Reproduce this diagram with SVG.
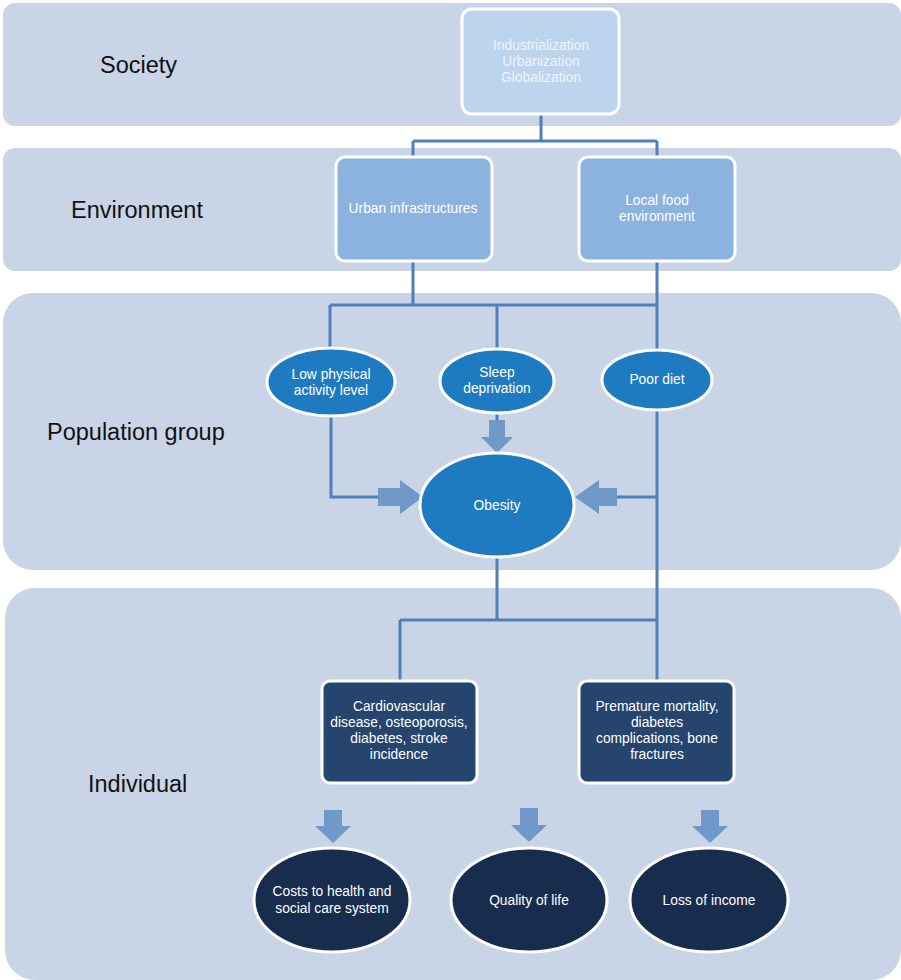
<svg xmlns="http://www.w3.org/2000/svg" width="901" height="980" viewBox="0 0 901 980">
<style>
.band{fill:#c9d4e7}
.lbl{font-family:"Liberation Sans",Arial,sans-serif;font-size:23.5px;fill:#111}
.t{font-family:"Liberation Sans",Arial,sans-serif;font-size:13.8px;fill:#fff;text-anchor:middle}
.soc{fill:#bdd4ee;stroke:#fff;stroke-width:3}
.env{fill:#8cb2df;stroke:#fff;stroke-width:3}
.pop{fill:#1f7bc1;stroke:#fff;stroke-width:3}
.ind{fill:#25456f;stroke:#fff;stroke-width:3}
.out{fill:#182c4e;stroke:#fff;stroke-width:3}
.ln{fill:none;stroke:#4f80bd;stroke-width:3}
.ar{fill:#7098c8}
</style>
<rect x="0" y="0" width="901" height="980" fill="#fff"/>
<g id="bands">
<rect class="band" x="3" y="3" width="898" height="123" rx="12"/>
<rect class="band" x="3" y="148" width="898" height="123" rx="12"/>
<rect class="band" x="3" y="293" width="898" height="277" rx="30"/>
<rect class="band" x="5" y="588" width="896" height="392" rx="30"/>
<text class="lbl" x="100" y="73">Society</text>
<text class="lbl" x="71" y="218">Environment</text>
<text class="lbl" x="47" y="440">Population group</text>
<text class="lbl" x="88" y="792">Individual</text>
</g>
<g id="connectors">
<path class="ln" d="M541 114V141M413 141H657M413 141V157M657 141V157"/>
<path class="ln" d="M413 261V305M330 305H657M657 261V350M330 305V348M497 305V349"/>
<path class="ln" d="M331 417V497H380"/>
<path class="ln" d="M497 414V421"/>
<path class="ln" d="M657 410V680M657 497H617"/>
<path class="ln" d="M497 558V620M400 620H657M400 620V680"/>
<path class="ar" d="M489 420H505V437H513L497 453L481 437H489Z"/>
<path class="ar" d="M378 488H400V480L423 497L400 514V506H378Z"/>
<path class="ar" d="M617 488H599V480L575 497L599 514V506H617Z"/>
<path class="ar" d="M324 810H342V826H351L333 843L315 826H324Z"/>
<path class="ar" d="M520 808H538V825H547L529 842L511 825H520Z"/>
<path class="ar" d="M701 810H719V826H728L710 843L692 826H701Z"/>
</g>
<g id="n-society">
<rect class="soc" x="462" y="9" width="157" height="105" rx="10"/>
<text class="t" x="541" y="50" style="fill:#eef3fa">Industrialization</text>
<text class="t" x="541" y="66" style="fill:#eef3fa">Urbanization</text>
<text class="t" x="541" y="82" style="fill:#eef3fa">Globalization</text>
</g>
<g id="n-urban">
<rect class="env" x="336" y="157" width="156" height="104" rx="9"/>
<text class="t" x="413" y="213">Urban infrastructures</text>
</g>
<g id="n-food">
<rect class="env" x="579" y="157" width="156" height="104" rx="9"/>
<text class="t" x="657" y="205">Local food</text>
<text class="t" x="657" y="221">environment</text>
</g>
<g id="n-lowpa">
<ellipse class="pop" cx="331" cy="382" rx="64" ry="34"/>
<text class="t" x="331" y="379">Low physical</text>
<text class="t" x="331" y="395">activity level</text>
</g>
<g id="n-sleep">
<ellipse class="pop" cx="497" cy="381" rx="57" ry="32"/>
<text class="t" x="497" y="377">Sleep</text>
<text class="t" x="497" y="393">deprivation</text>
</g>
<g id="n-diet">
<ellipse class="pop" cx="657" cy="380" rx="55" ry="30"/>
<text class="t" x="657" y="384">Poor diet</text>
</g>
<g id="n-obesity">
<ellipse class="pop" cx="497" cy="505" rx="77" ry="52"/>
<text class="t" x="497" y="510">Obesity</text>
</g>
<g id="n-cvd">
<rect class="ind" x="322" y="681" width="155" height="102" rx="8"/>
<text class="t" x="399" y="711">Cardiovascular</text>
<text class="t" x="399" y="727">disease, osteoporosis,</text>
<text class="t" x="399" y="743">diabetes, stroke</text>
<text class="t" x="399" y="759">incidence</text>
</g>
<g id="n-premature">
<rect class="ind" x="579" y="681" width="155" height="102" rx="8"/>
<text class="t" x="657" y="711">Premature mortality,</text>
<text class="t" x="657" y="727">diabetes</text>
<text class="t" x="657" y="743">complications, bone</text>
<text class="t" x="657" y="759">fractures</text>
</g>
<g id="n-costs">
<ellipse class="out" cx="332" cy="900" rx="78" ry="52"/>
<text class="t" x="332" y="896">Costs to health and</text>
<text class="t" x="332" y="913">social care system</text>
</g>
<g id="n-qol">
<ellipse class="out" cx="529" cy="900" rx="78" ry="52"/>
<text class="t" x="529" y="905">Quality of life</text>
</g>
<g id="n-income">
<ellipse class="out" cx="709" cy="900" rx="79" ry="52"/>
<text class="t" x="709" y="905">Loss of income</text>
</g>
</svg>
